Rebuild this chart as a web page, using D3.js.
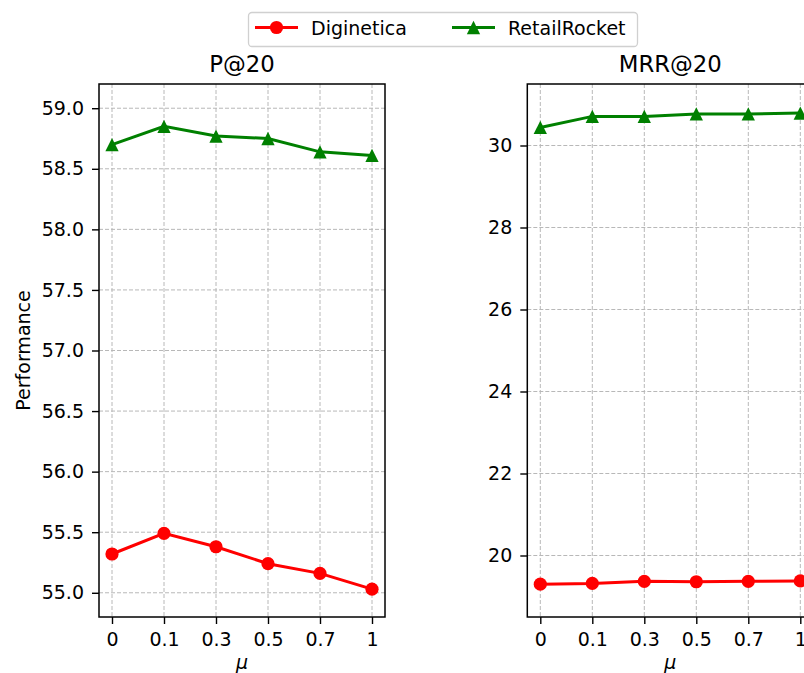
<!DOCTYPE html>
<html>
<head>
<meta charset="utf-8">
<script src="https://cdn.jsdelivr.net/npm/d3@7"></script>
<style>
  body { margin: 0; background: #fff; }
  svg { display: block; font-family: "DejaVu Sans", sans-serif; }
</style>
</head>
<body>
<div id="chart"></div>
<script>
// Data
const muLabels = ["0", "0.1", "0.3", "0.5", "0.7", "1"];
const seriesNames = ["Diginetica", "RetailRocket"];

const precisionDiginetica = [55.32, 55.49, 55.38, 55.24, 55.16, 55.03];
const precisionRetail = [58.70, 58.85, 58.77, 58.75, 58.64, 58.61];
const mrrDiginetica = [19.30, 19.32, 19.37, 19.36, 19.37, 19.38];
const mrrRetail = [30.44, 30.71, 30.71, 30.77, 30.77, 30.79];

const precisionTicks = [55.0, 55.5, 56.0, 56.5, 57.0, 57.5, 58.0, 58.5, 59.0];
const mrrTicks = [20, 22, 24, 26, 28, 30];

const W = 804, H = 673;
const colors = ["#ff0000", "#008000"];
const fontSize = "19px";

const svg = d3.select("#chart")
  .append("svg")
  .attr("width", W)
  .attr("height", H);

// Panel setup
const panels = [
  { title: "P@20", left: 99, yDomain: [54.8, 59.2], ticks: precisionTicks,
    fmt: d3.format(".1f"), series: [precisionDiginetica, precisionRetail], ylabel: "Performance" },
  { title: "MRR@20", left: 527.3, yDomain: [18.5, 31.5], ticks: mrrTicks,
    fmt: d3.format("d"), series: [mrrDiginetica, mrrRetail], ylabel: null }
];

const plotTop = 84, plotBottom = 617, panelW = 286;

// matplotlib-style triangle marker, as tall as it is wide
const triSize = 13.3;
const triPath = `M0,${-triSize / 2}L${-triSize / 2},${triSize / 2}L${triSize / 2},${triSize / 2}Z`;

panels.forEach(p => {
  const g = svg.append("g");

  const x = d3.scaleLinear()
    .domain([-0.25, muLabels.length - 1 + 0.25])
    .range([p.left, p.left + panelW]);

  const y = d3.scaleLinear()
    .domain(p.yDomain)
    .range([plotBottom, plotTop]);

  // gridlines
  g.selectAll(".xgrid")
    .data(muLabels.map((d, i) => i))
    .join("line")
    .attr("x1", d => x(d)).attr("x2", d => x(d))
    .attr("y1", plotTop).attr("y2", plotBottom)
    .attr("stroke", "#b8b8b8")
    .attr("stroke-width", 1)
    .attr("stroke-dasharray", "4,2");

  g.selectAll(".ygrid")
    .data(p.ticks)
    .join("line")
    .attr("x1", p.left).attr("x2", p.left + panelW)
    .attr("y1", d => y(d)).attr("y2", d => y(d))
    .attr("stroke", "#b8b8b8")
    .attr("stroke-width", 1)
    .attr("stroke-dasharray", "4,2");

  // axes
  const xAxis = g.append("g")
    .attr("transform", `translate(0,${plotBottom})`)
    .call(d3.axisBottom(x)
      .tickValues(muLabels.map((d, i) => i))
      .tickFormat(i => muLabels[i])
      .tickSize(7)
      .tickPadding(9));

  const yAxis = g.append("g")
    .attr("transform", `translate(${p.left},0)`)
    .call(d3.axisLeft(y)
      .tickValues(p.ticks)
      .tickFormat(p.fmt)
      .tickSize(7)
      .tickPadding(8));

  [xAxis, yAxis].forEach(a => {
    a.select(".domain").remove();
    a.selectAll(".tick line").attr("stroke", "#000").attr("stroke-width", 1.4);
    a.selectAll(".tick text")
      .style("font-size", fontSize)
      .style("font-family", "DejaVu Sans")
      .attr("fill", "#000");
  });

  // frame
  g.append("rect")
    .attr("x", p.left).attr("y", plotTop)
    .attr("width", panelW).attr("height", plotBottom - plotTop)
    .attr("fill", "none")
    .attr("stroke", "#000")
    .attr("stroke-width", 1.5);

  // lines + markers
  const line = d3.line()
    .x((d, i) => x(i))
    .y(d => y(d));

  p.series.forEach((vals, s) => {
    g.append("path")
      .datum(vals)
      .attr("fill", "none")
      .attr("stroke", colors[s])
      .attr("stroke-width", 3)
      .attr("d", line);

    if (s === 0) {
      g.selectAll(".dot" + s)
        .data(vals)
        .join("circle")
        .attr("cx", (d, i) => x(i))
        .attr("cy", d => y(d))
        .attr("r", 6.6)
        .attr("fill", colors[s]);
    } else {
      g.selectAll(".tri" + s)
        .data(vals)
        .join("path")
        .attr("d", triPath)
        .attr("transform", (d, i) => `translate(${x(i)},${y(d)})`)
        .attr("fill", colors[s]);
    }
  });

  // title
  g.append("text")
    .attr("x", p.left + panelW / 2)
    .attr("y", 71.5)
    .attr("text-anchor", "middle")
    .style("font-size", "22.8px")
    .text(p.title);

  // x label
  g.append("text")
    .attr("x", p.left + panelW / 2)
    .attr("y", 669)
    .attr("text-anchor", "middle")
    .style("font-size", fontSize)
    .style("font-style", "italic")
    .text("μ");

  if (p.ylabel) {
    g.append("text")
      .attr("transform", `translate(30,${(plotTop + plotBottom) / 2}) rotate(-90)`)
      .attr("text-anchor", "middle")
      .style("font-size", fontSize)
      .text(p.ylabel);
  }
});

// Legend
const legend = svg.append("g");
legend.append("rect")
  .attr("x", 248.5).attr("y", 12.5)
  .attr("width", 389).attr("height", 34)
  .attr("rx", 3.5)
  .attr("fill", "#fff")
  .attr("stroke", "#d0d0d0")
  .attr("stroke-width", 1.3);

const legendX = [255, 452];
seriesNames.forEach((name, s) => {
  const lx = legendX[s];
  legend.append("line")
    .attr("x1", lx).attr("x2", lx + 43)
    .attr("y1", 27.5).attr("y2", 27.5)
    .attr("stroke", colors[s])
    .attr("stroke-width", 3);
  if (s === 0) {
    legend.append("circle")
      .attr("cx", lx + 21.5).attr("cy", 27.5).attr("r", 6.6)
      .attr("fill", colors[s]);
  } else {
    legend.append("path")
      .attr("d", triPath)
      .attr("transform", `translate(${lx + 21.5},27.5)`)
      .attr("fill", colors[s]);
  }
  legend.append("text")
    .attr("x", lx + 56)
    .attr("y", 35)
    .style("font-size", fontSize)
    .text(name);
});
</script>
</body>
</html>
